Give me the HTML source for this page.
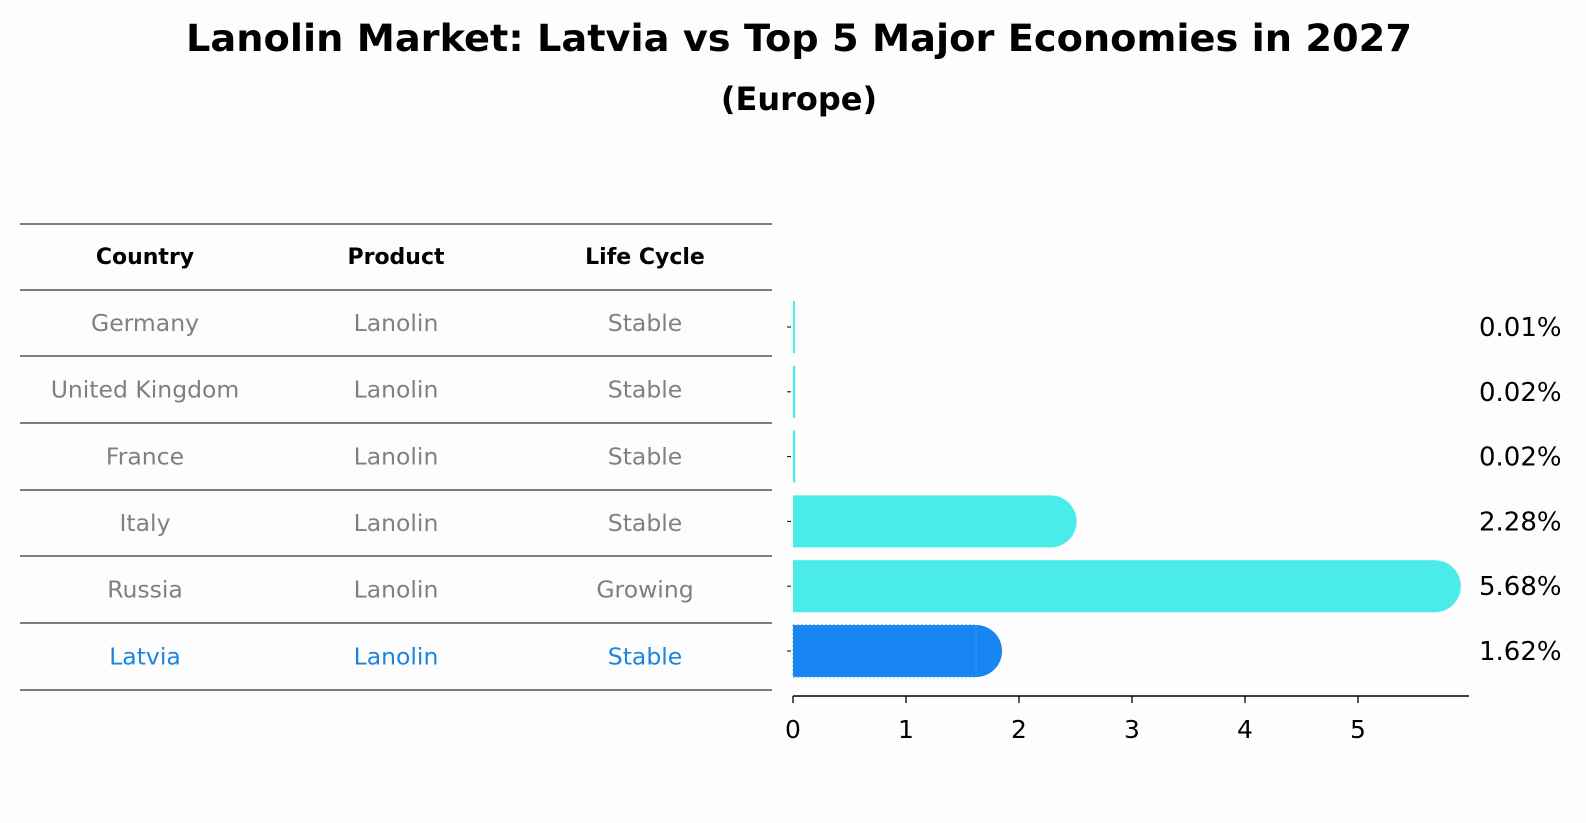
<!DOCTYPE html>
<html><head><meta charset="utf-8"><style>
body{margin:0;background:#fdfdfd;}
svg{display:block;font-family:"DejaVu Sans","Liberation Sans",sans-serif;}
</style></head><body>
<svg id="c" width="1586" height="823">
<text x="799" y="51" text-anchor="middle" font-size="37" font-weight="bold" textLength="1226" lengthAdjust="spacingAndGlyphs">Lanolin Market: Latvia vs Top 5 Major Economies in 2027</text>
<text x="799" y="110" text-anchor="middle" font-size="32" font-weight="bold">(Europe)</text>
<g id="table"></g>
<g id="bars"></g>
</svg>
<script>
const countries=["Germany","United Kingdom","France","Italy","Russia","Latvia"];
const products=["Lanolin","Lanolin","Lanolin","Lanolin","Lanolin","Lanolin"];
const lifeCycles=["Stable","Stable","Stable","Stable","Growing","Stable"];
const shares=[0.01,0.02,0.02,2.28,5.68,1.62];
const shareLabels=["0.01%","0.02%","0.02%","2.28%","5.68%","1.62%"];
const xTicks=[0,1,2,3,4,5];
const NS="http://www.w3.org/2000/svg";
function mk(t,a,p){const e=document.createElementNS(NS,t);for(const k in a)e.setAttribute(k,a[k]);p.appendChild(e);return e;}
const x0=793,xs=113;
const X=v=>x0+v*xs;
const rowY=i=>327+i*64.8;
const tbl=document.getElementById('table'),bars=document.getElementById('bars');
const lines=[224,290,356,423,490,556,623,690];
lines.forEach((y,i)=>{const l=mk('line',{x1:20,x2:772,y1:y,y2:y,stroke:'#000','stroke-width':1},tbl);

});
const cols=[145,396,645];
["Country","Product","Life Cycle"].forEach((h,j)=>{const t=mk('text',{x:cols[j],y:264,'text-anchor':'middle','font-size':22,'font-weight':'bold'},tbl);t.textContent=h;

});
countries.forEach((c,i)=>{
 const cy=(lines[i+1]+lines[i+2])/2;
 const col=i===countries.length-1?'#1a84e0':'#808080';
 [c,products[i],lifeCycles[i]].forEach((v,j)=>{const t=mk('text',{x:cols[j],y:cy+8,'text-anchor':'middle','font-size':23.5,fill:col},tbl);t.textContent=v;
 
 });
 const y=rowY(i),h=52,w=Math.max(2,X(shares[i])-x0);
 const fill=i===countries.length-1?'#1785f2':'#4aecea';
 const g=mk('g',{},bars);
 
 
 mk('rect',{x:x0,y:y-h/2,width:w,height:h,fill:fill},g);
 if(shares[i]>0.1) mk('circle',{cx:X(shares[i]),cy:y,r:h/2,fill:fill},g);
 if(i===countries.length-1) mk('rect',{x:x0,y:y-h/2,width:w,height:h,fill:'none',stroke:'#5a9ed8','stroke-dasharray':'2,2','stroke-width':1},g);
 const t=mk('text',{x:1479,y:y+9,'font-size':26},bars);t.textContent=shareLabels[i];
 
 
 const tk=mk('line',{x1:x0-6,x2:x0-2,y1:y,y2:y,stroke:'#000'},bars);
 
 
});
const ax=mk('line',{x1:x0,x2:1469,y1:696,y2:696,stroke:'#000','stroke-width':1.5},bars);


xTicks.forEach(v=>{const l=mk('line',{x1:X(v),x2:X(v),y1:696,y2:703,stroke:'#000','stroke-width':1.3},bars);


const t=mk('text',{x:X(v),y:738,'text-anchor':'middle','font-size':25},bars);t.textContent=v;

});
</script>
</body></html>
